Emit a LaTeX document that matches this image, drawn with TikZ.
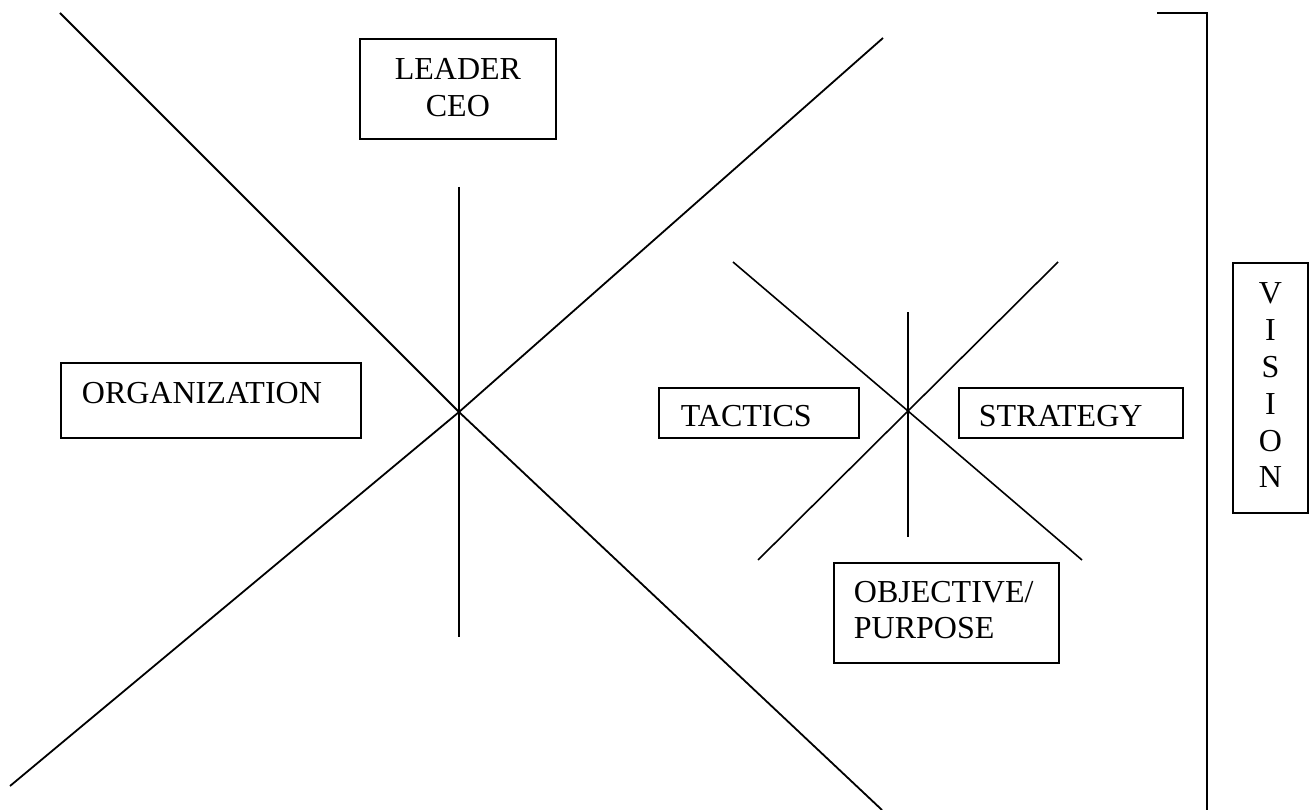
\documentclass[tikz,border=0pt]{standalone}
\usepackage{fontspec}
\setmainfont{Liberation Serif}
\begin{document}
\begin{tikzpicture}[x=1pt,y=-1pt,
  ln/.style={line width=1.8pt,black},
  thin ln/.style={line width=1.6pt,black},
  txtbox/.style={draw,line width=1.8pt,anchor=north west,inner ysep=0pt,
    font=\fontsize{32}{36.8}\selectfont},
]
\useasboundingbox (0,0) rectangle (1316,810);

% big X
\coordinate (C) at (459,412);
\coordinate (a1) at (60,13);
\coordinate (a2) at (882,810);
\coordinate (b1) at (10,786);
\coordinate (b2) at (883,38);
\coordinate (v1) at (459,187);
\coordinate (v2) at (459,637);
\draw[ln] (a1) -- (C) -- (a2);
\draw[ln] (b1) -- (C) -- (b2);
\draw[ln] (v1) -- (v2);

% small X
\coordinate (S) at (908,411);
\coordinate (c1) at (733,262);
\coordinate (c2) at (1082,560);
\coordinate (d1) at (1058,262);
\coordinate (d2) at (758,560);
\coordinate (w1) at (908,312);
\coordinate (w2) at (908,537);
\draw[thin ln] (c1) -- (S) -- (c2);
\draw[thin ln] (d1) -- (S) -- (d2);
\draw[thin ln] (w1) -- (w2);

% bracket
\coordinate (k1) at (1157,13);
\coordinate (k2) at (1207,13);
\coordinate (k3) at (1207,812);
\draw[ln] (k1) -- (k2) -- (k3);

% boxes
\node[txtbox,text width=186pt,inner xsep=5pt,align=center,
  text height=41pt,text depth=59pt] (leader) at (359,38) {LEADER\\CEO};
\node[txtbox,text width=258pt,inner xsep=21pt,align=left,
  text height=41pt,text depth=34pt] (org) at (60,362) {ORGANIZATION};
\node[txtbox,text width=156pt,inner xsep=22pt,align=left,
  text height=39pt,text depth=11pt] (tactics) at (658,387) {TACTICS};
\node[txtbox,text width=184pt,inner xsep=20pt,align=left,
  text height=39pt,text depth=11pt] (strategy) at (958,387) {STRATEGY};
\node[txtbox,text width=185pt,inner xsep=20pt,align=left,
  font=\fontsize{32}{36}\selectfont,
  text height=40pt,text depth=60pt] (objective) at (833,562) {OBJECTIVE/\\PURPOSE};
\node[txtbox,text width=65pt,inner xsep=5pt,align=center,
  text height=41pt,text depth=209pt] (vision) at (1232,262) {V\\I\\S\\I\\O\\N};
\end{tikzpicture}
\end{document}
